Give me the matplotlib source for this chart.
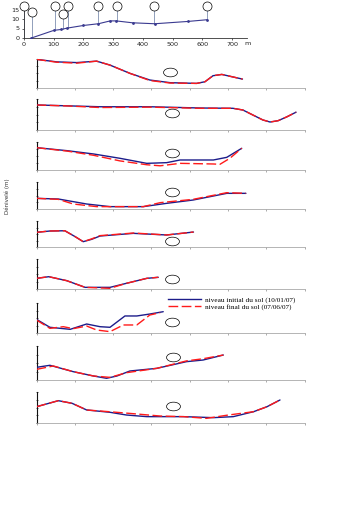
import matplotlib
matplotlib.use("Agg")
import matplotlib.pyplot as plt
from matplotlib.lines import Line2D
from matplotlib.path import Path
from matplotlib.transforms import Affine2D

# ---------------- data ----------------
# top profile (distance m, altitude m)
profile_x = [25, 100, 125, 145, 200, 250, 290, 310, 365, 440, 550, 615]
profile_y = [0, 4.0, 4.5, 5.2, 6.6, 7.5, 9.0, 9.0, 8.0, 7.5, 8.7, 9.6]
station_x = [0, 28, 104, 130, 149, 250, 312, 438, 615]
station_ground = [0, 0, 4.0, 4.5, 5.2, 7.5, 9.0, 7.5, 9.6]
station_circle = [17, 13.5, 17, 12.7, 17, 17, 17, 17, 17]
top_xticks = [0, 100, 200, 300, 400, 500, 600, 700]
top_yticks = [0, 5, 10, 15]

# profiles per transect: distance (m) and relative height
p1_bx = [0, 5.3, 10.5, 15.7, 19.2, 24.4, 29.6, 34.9, 41.8, 44.0, 46.1, 48.4, 51.3, 53.8]
p1_by = [3.95, 3.6, 3.5, 3.7, 3.15, 2.0, 1.07, 0.7, 0.6, 0.83, 1.67, 1.85, 1.5, 1.2]
p1_rx = p1_bx
p1_ry = [3.95, 3.55, 3.42, 3.7, 3.15, 2.0, 1.0, 0.65, 0.6, 0.83, 1.67, 1.85, 1.5, 1.2]
p1_c = (34.9, 2.2)

p2_bx = [0, 16.6, 29.6, 42.7, 51.3, 53.9, 56.5, 59.1, 61.0, 63.1, 65.4, 67.8]
p2_by = [3.23, 3.0, 3.0, 2.84, 2.8, 2.58, 1.94, 1.3, 1.03, 1.2, 1.7, 2.3]
p2_rx = [0, 8.3, 16.6, 29.6, 42.7, 51.3, 53.9, 56.5, 59.1, 61.0, 63.1, 65.4, 67.8]
p2_ry = [3.23, 3.1, 2.9, 2.95, 2.8, 2.8, 2.58, 1.94, 1.3, 1.03, 1.2, 1.7, 2.3]
p2_c = (35.3, 2.15)

p3_bx = [0, 8.0, 14.9, 21.8, 28.8, 34.0, 37.5, 46.2, 49.7, 53.6]
p3_by = [3.19, 2.76, 2.29, 1.67, 0.95, 1.05, 1.43, 1.43, 1.81, 3.1]
p3_rx = [0, 8.0, 14.9, 21.8, 28.8, 32.3, 37.5, 46.2, 47.9, 50.5, 53.6]
p3_ry = [3.19, 2.7, 2.1, 1.3, 0.75, 0.6, 0.95, 0.86, 0.81, 1.67, 3.1]
p3_c = (35.5, 2.38)

p4_bx = [0, 5.7, 13.1, 19.2, 27.9, 34.0, 40.9, 49.7, 54.7]
p4_by = [1.58, 1.48, 0.74, 0.35, 0.35, 0.84, 1.33, 2.32, 2.32]
p4_rx = [0, 5.7, 9.6, 15.7, 27.9, 32.3, 40.9, 49.7, 54.7]
p4_ry = [1.58, 1.43, 0.74, 0.35, 0.35, 0.94, 1.43, 2.42, 2.32]
p4_c = (35.5, 2.52)

p5_bx = [0, 3.5, 7.4, 10.1, 12.2, 14.4, 16.6, 25.3, 34.0, 41.0]
p5_by = [2.26, 2.46, 2.5, 1.59, 0.82, 1.18, 1.69, 2.1, 1.85, 2.3]
p5_rx = p5_bx
p5_ry = [2.26, 2.46, 2.5, 1.59, 0.82, 1.25, 1.75, 2.15, 1.85, 2.3]
p5_c = (35.3, 0.92)

p6_bx = [0, 3.2, 7.9, 12.7, 19.2, 23.5, 28.8, 31.8]
p6_by = [1.42, 1.64, 1.11, 0.22, 0.22, 0.76, 1.42, 1.56]
p6_rx = [0, 3.2, 7.9, 12.7, 19.2, 21.8, 23.5, 28.8, 31.8]
p6_ry = [1.42, 1.64, 1.11, 0.22, 0.09, 0.5, 0.76, 1.42, 1.56]
p6_c = (35.5, 1.29)

p7_bx = [0, 3.5, 8.8, 13.1, 16.6, 19.2, 23.1, 26.2, 29.6, 33.1]
p7_by = [1.82, 0.76, 0.49, 1.2, 0.84, 0.76, 2.27, 2.27, 2.53, 2.84]
p7_rx = [0, 3.5, 7.0, 9.6, 13.1, 15.7, 19.2, 22.7, 26.2, 29.6, 32.3]
p7_ry = [1.73, 0.62, 0.84, 0.58, 0.93, 0.4, 0.18, 1.07, 1.07, 2.4, 2.71]
p7_c = (35.5, 1.42)

p8_bx = [0, 3.5, 9.6, 14.9, 18.3, 21.0, 24.4, 31.4, 39.2, 43.5, 48.8]
p8_by = [1.49, 1.73, 0.98, 0.47, 0.2, 0.47, 1.06, 1.37, 2.16, 2.35, 2.94]
p8_rx = [0, 4.4, 9.6, 14.9, 19.2, 23.5, 31.4, 39.2, 43.5, 48.8]
p8_ry = [1.25, 1.65, 0.98, 0.47, 0.31, 0.86, 1.37, 2.25, 2.5, 2.94]
p8_c = (35.7, 2.75)

p9_bx = [0, 5.7, 9.3, 13.1, 19.2, 23.5, 28.8, 38.4, 46.2, 51.4, 56.7, 60.2, 63.6]
p9_by = [2.1, 2.88, 2.54, 1.68, 1.38, 1.03, 0.82, 0.82, 0.69, 0.82, 1.46, 2.1, 2.97]
p9_rx = [0, 5.7, 9.3, 13.1, 19.2, 25.3, 32.3, 38.4, 44.4, 49.7, 56.7, 60.2, 63.6]
p9_ry = [2.1, 2.88, 2.54, 1.68, 1.45, 1.2, 0.9, 0.82, 0.6, 1.0, 1.46, 2.1, 2.97]
p9_c = (35.7, 2.19)

panels = [
    (p1_bx, p1_by, p1_rx, p1_ry, p1_c),
    (p2_bx, p2_by, p2_rx, p2_ry, p2_c),
    (p3_bx, p3_by, p3_rx, p3_ry, p3_c),
    (p4_bx, p4_by, p4_rx, p4_ry, p4_c),
    (p5_bx, p5_by, p5_rx, p5_ry, p5_c),
    (p6_bx, p6_by, p6_rx, p6_ry, p6_c),
    (p7_bx, p7_by, p7_rx, p7_ry, p7_c),
    (p8_bx, p8_by, p8_rx, p8_ry, p8_c),
    (p9_bx, p9_by, p9_rx, p9_ry, p9_c),
]
legend_labels = ["niveau initial du sol (10/01/07)", "niveau final du sol (07/06/07)"]
ylabel_text = "Dénivelé (m)"

# ---------------- figure ----------------
W, H = 348, 512
fig = plt.figure(figsize=(W / 100, H / 100), dpi=100)

def fbox(x0, top, x1, bottom):
    return [x0 / W, 1 - bottom / H, (x1 - x0) / W, (bottom - top) / H]

BLUE = "#1c1c8a"
RED = "#ff1a1a"

# top profile axes
axt = fig.add_axes(fbox(24, 9.5, 247, 38))
axt.set_xlim(0, 750)
axt.set_ylim(0, 15)
axt.plot(profile_x, profile_y, color="#3a3a90", lw=0.8, marker="o", ms=1.0, zorder=3)
for sx, sg, sc in zip(station_x, station_ground, station_circle):
    axt.plot([sx, sx], [sg, sc], color="#7f8fb0", lw=0.6, clip_on=False, zorder=2)
    axt.plot([sx], [sc], marker="o", ms=6.5, mfc="white", mec="black", mew=0.5,
             clip_on=False, zorder=4)
axt.set_xticks(top_xticks)
axt.set_yticks(top_yticks)
axt.tick_params(labelsize=4.6, length=1.5, width=0.5, pad=1.5, colors="#222222")
for s in ["top", "right"]:
    axt.spines[s].set_visible(False)
for s in ["left", "bottom"]:
    axt.spines[s].set_linewidth(0.6)
    axt.spines[s].set_color("#333333")
axt.text(742, -1.5, "m", fontsize=4.6, va="top", ha="left", color="#222222")

panel_px = [(59, 87.7), (99, 130), (142, 170), (182, 209), (221, 247),
            (259, 289), (303, 333), (346, 380), (392, 423)]

ell = Path.unit_circle().transformed(Affine2D().scale(1.6, 1.0))

for (bx, by, rx, ry, c), (top, bot) in zip(panels, panel_px):
    ax = fig.add_axes(fbox(36.5, top, 304.5, bot))
    ax.set_xlim(0, 70)
    ax.set_ylim(0, 4)
    ax.plot(bx, by, color=BLUE, lw=1.0, solid_capstyle="round", zorder=3)
    ax.plot(rx, ry, color=RED, lw=1.0, dashes=(7, 2.5), zorder=4)
    ax.plot([c[0]], [c[1]], marker=ell, ms=10, mfc="none", mec="black", mew=0.5, zorder=5)
    ax.set_xticks(range(0, 71, 10))
    ax.set_yticks([0, 1, 2, 3, 4])
    ax.tick_params(axis="x", length=1.5, width=0.5, colors="#888888", labelbottom=False)
    ax.tick_params(axis="y", length=1.8, width=0.5, direction="inout", colors="#222222",
                   labelleft=False)
    for s in ["top", "right"]:
        ax.spines[s].set_visible(False)
    ax.spines["left"].set_linewidth(0.8)
    ax.spines["left"].set_color("#111111")
    ax.spines["bottom"].set_linewidth(0.6)
    ax.spines["bottom"].set_color("#a8a8a8")
    ax.patch.set_alpha(0)

handles = [Line2D([], [], color=BLUE, lw=1.0),
           Line2D([], [], color=RED, lw=1.0, dashes=(7, 2.5))]
fig.legend(handles, legend_labels, loc="upper left",
           bbox_to_anchor=(168 / W, 1 - 296.5 / H), frameon=False,
           prop={"family": "Liberation Serif", "size": 5.2},
           handlelength=4.6, handletextpad=0.5, labelspacing=0.1, borderpad=0,
           borderaxespad=0)

fig.text(7 / W, 1 - 196 / H, ylabel_text, rotation=90, fontsize=4, color="#333333",
         ha="center", va="center")

fig.savefig("out.png", dpi=100)
